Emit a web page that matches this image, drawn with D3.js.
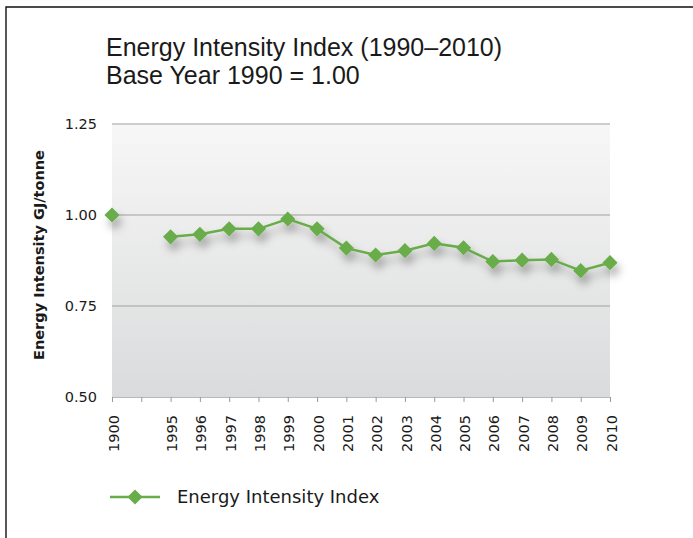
<!DOCTYPE html>
<html>
<head>
<meta charset="utf-8">
<script src="https://cdn.jsdelivr.net/npm/d3@7"></script>
<style>
  body { margin: 0; background: #fff; }
  svg { display: block; font-family: "DejaVu Sans", sans-serif; }
</style>
</head>
<body>
<svg id="chart" width="693" height="538"></svg>
<script>
// Data
const years  = ["1900", "", "1995", "1996", "1997", "1998", "1999", "2000", "2001",
                "2002", "2003", "2004", "2005", "2006", "2007", "2008", "2009", "2010"];
const values = [1.00, null, 0.940, 0.947, 0.962, 0.962, 0.989, 0.962, 0.909,
                0.890, 0.902, 0.922, 0.910, 0.872, 0.876, 0.878, 0.847, 0.869];
const yTicks = [0.50, 0.75, 1.00, 1.25];

const seriesName = "Energy Intensity Index";
const green = "#69ad4b";
const ink = "#1a1a1a";
const axisFont = "DejaVu Sans, sans-serif";

const svg = d3.select("#chart");

// Plot area
const plotL = 112, plotR = 610, plotT = 124, plotB = 397;

const x = d3.scalePoint().domain(d3.range(years.length)).range([plotL, plotR]);
const y = d3.scaleLinear().domain([0.5, 1.25]).range([plotB, plotT]);

// defs: gradient background + drop shadow
const defs = svg.append("defs");
const grad = defs.append("linearGradient")
    .attr("id", "bg").attr("x1", 0).attr("y1", 0).attr("x2", 0).attr("y2", 1);
grad.append("stop").attr("offset", "0%").attr("stop-color", "#f7f7f7");
grad.append("stop").attr("offset", "100%").attr("stop-color", "#dadbdc");

const shadow = defs.append("filter").attr("id", "shadow")
    .attr("x", "-50%").attr("y", "-50%").attr("width", "200%").attr("height", "200%");
shadow.append("feDropShadow")
    .attr("dx", 3).attr("dy", 7).attr("stdDeviation", 4)
    .attr("flood-color", "#000").attr("flood-opacity", 0.32);

// Outer frame (top and left edges)
svg.append("path")
    .attr("d", "M6,538 V7 H693")
    .attr("fill", "none")
    .attr("stroke", "#111")
    .attr("stroke-width", 1.4);

// Title
const title = svg.append("g")
    .attr("font-family", "Liberation Sans, Arial, sans-serif")
    .attr("font-size", 25).attr("fill", ink);
title.append("text").attr("x", 106).attr("y", 56).text("Energy Intensity Index (1990–2010)");
title.append("text").attr("x", 106).attr("y", 84).text("Base Year 1990 = 1.00");

// Background
svg.append("rect")
    .attr("x", plotL).attr("y", plotT)
    .attr("width", plotR - plotL).attr("height", plotB - plotT)
    .attr("fill", "url(#bg)");

// Gridlines
svg.append("g")
    .selectAll("line")
    .data(yTicks.filter(d => d > 0.5))
    .enter().append("line")
    .attr("x1", plotL).attr("x2", plotR)
    .attr("y1", d => y(d)).attr("y2", d => y(d))
    .attr("stroke", "#a0a0a0").attr("stroke-width", 1.2);

// Y axis labels
const yAxis = svg.append("g")
    .attr("transform", `translate(${plotL},0)`)
    .call(d3.axisLeft(y).tickValues(yTicks).tickFormat(d3.format(".2f")).tickSize(0).tickPadding(15));
yAxis.select(".domain").remove();
yAxis.selectAll("text").attr("font-size", 14.5).attr("fill", ink)
    .attr("font-family", axisFont);

// X axis
const xAxis = svg.append("g")
    .attr("transform", `translate(0,${plotB})`)
    .call(d3.axisBottom(x).tickFormat(i => years[i]).tickSize(5).tickSizeOuter(0));
xAxis.select(".domain").attr("stroke", "#b8b8b8").attr("stroke-width", 1.2);
xAxis.selectAll(".tick line").attr("stroke", "#999");
xAxis.selectAll("text")
    .attr("font-size", 14.5).attr("fill", ink)
    .attr("font-family", axisFont)
    .attr("transform", "rotate(-90)")
    .attr("text-anchor", "end")
    .attr("x", -18).attr("y", 1).attr("dy", "0.35em");

// Y axis title
svg.append("text")
    .attr("transform", "translate(39,255) rotate(-90)")
    .attr("text-anchor", "middle").attr("dy", "0.35em")
    .attr("font-family", axisFont)
    .attr("font-size", 14.5).attr("font-weight", "bold").attr("fill", ink)
    .text("Energy Intensity GJ/tonne");

// Series
const pts = values.map((v, i) => ({ i, v }));
const line = d3.line()
    .defined(d => d.v != null)
    .x(d => x(d.i)).y(d => y(d.v));

const series = svg.append("g").attr("filter", "url(#shadow)");
series.append("path")
    .datum(pts)
    .attr("d", line)
    .attr("fill", "none")
    .attr("stroke", green)
    .attr("stroke-width", 2.5);

const diamond = d3.symbol().type(d3.symbolSquare).size(115);
series.selectAll(".pt")
    .data(pts.filter(d => d.v != null))
    .enter().append("path")
    .attr("class", "pt")
    .attr("d", diamond)
    .attr("transform", d => `translate(${x(d.i)},${y(d.v)}) rotate(45)`)
    .attr("fill", green);

// Legend
const legend = svg.append("g").attr("transform", "translate(110,497)");
legend.append("line")
    .attr("x1", 0).attr("x2", 50)
    .attr("stroke", green).attr("stroke-width", 2.5);
legend.append("path")
    .attr("d", diamond)
    .attr("transform", "translate(25,0) rotate(45)")
    .attr("fill", green);
legend.append("text")
    .attr("x", 67).attr("dy", "0.36em")
    .attr("font-family", axisFont)
    .attr("font-size", 18).attr("fill", ink)
    .text(seriesName);
</script>
</body>
</html>
